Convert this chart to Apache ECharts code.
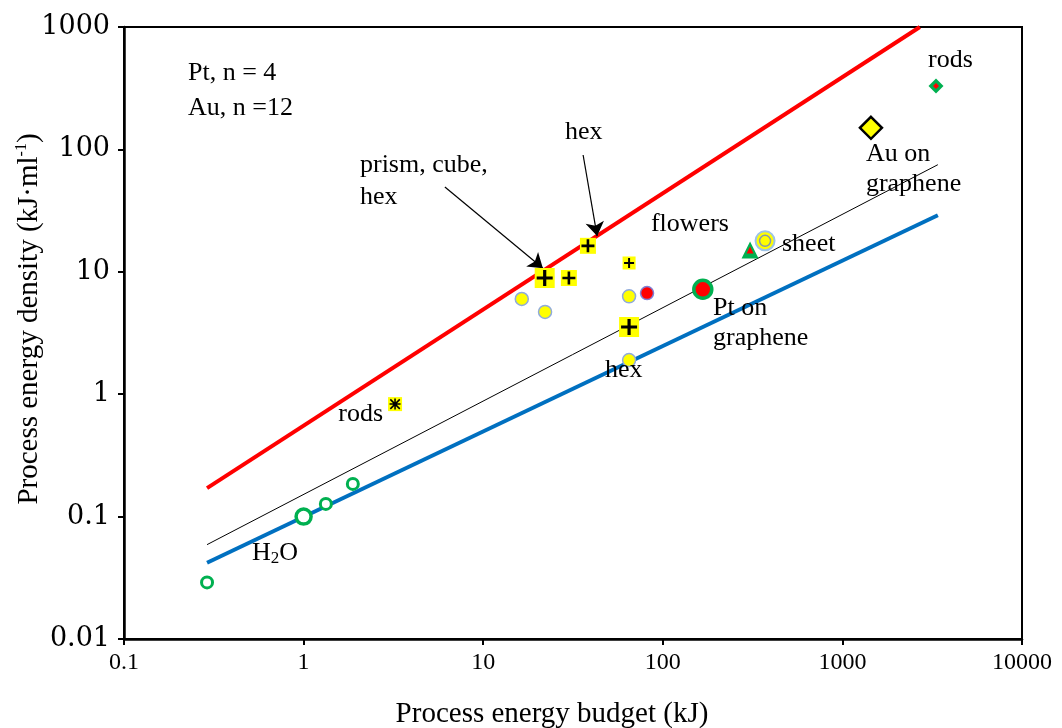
<!DOCTYPE html>
<html>
<head>
<meta charset="utf-8">
<script src="https://cdn.jsdelivr.net/npm/echarts@6/dist/echarts.min.js"></script>
<style>html,body{margin:0;padding:0;background:#fff}#c{width:1062px;height:728px}</style>
</head>
<body>
<div id="c"></div>
<script>
// ---- data ----
const xTickLabels = ['0.1', '1', '10', '100', '1000', '10000'];
const yTickLabels = ['0.01', '0.1', '1', '10', '100', '1000'];

const redLine = [[0.29, 0.171], [2700, 1000]];
const blueLine = [[0.29, 0.042], [3400, 29]];
const thinLine = [[0.29, 0.059], [3400, 75]];

const waterSmall = [[0.29, 0.029], [1.33, 0.127], [1.88, 0.185]];
const waterLarge = [[1.0, 0.1]];
const yellowCircles = [[16.4, 6.0], [22.1, 4.7], [64.9, 6.3], [64.9, 1.9]];
const sheetPoint = [[371, 17.9]];
const redBlueCircle = [[81.7, 6.7]];
const ptGraphene = [[167, 7.2]];
const greenTriangle = [[306, 15.1]];
const greenDiamond = [[3319, 330]];
const auGraphene = [[1442, 150]];
const plusLarge = [[22, 8.9], [64.9, 3.54]];
const plusMedium = [[30, 8.9], [38.3, 16.3]];
const plusSmall = [[64.9, 11.8]];
const rodsStar = [[3.23, 0.83]];

const annotations = [
  [0.227, 421, 'Pt, n = 4'],
  [0.227, 218, 'Au, n =12'],
  [28.5, 139, 'hex'],
  [2.06, 74.7, 'prism, cube,'],
  [2.06, 40.8, 'hex'],
  [85.9, 24.6, 'flowers'],
  [461, 16.9, 'sheet'],
  [190.6, 5.06, 'Pt on'],
  [190.6, 2.88, 'graphene'],
  [47.6, 1.58, 'hex'],
  [1.56, 0.689, 'rods'],
  [0.516, 0.0505, 'H{sub|2}O'],
  [1352, 91.6, 'Au on'],
  [1352, 52.1, 'graphene'],
  [3000, 537, 'rods']
];
const arrows = [
  [[6.12, 49.3], [21.5, 10.7]],
  [[36.0, 90], [43.1, 19.6]]
];

// ---- chart ----
const SERIF = '"Liberation Serif", "Times New Roman", serif';
const YSERIF = '"DejaVu Serif", serif';
const YELLOW = '#FFFF00';
const GREEN = '#00B050';
const RED = '#FF0000';
const PLUS = 'path://M4,0H6V10H4Z M0,4H10V6H0Z';
const STAR = 'path://M4.3,0H5.7V10H4.3Z M0,4.3H10V5.7H0Z M1.2,0.2L9.8,8.8L8.8,9.8L0.2,1.2Z M8.8,0.2L9.8,1.2L1.2,9.8L0.2,8.8Z';

function sc(data, symbol, size, fill, border, bw, z) {
  return {
    type: 'scatter', data: data, symbol: symbol, symbolSize: size, z: z || 5,
    itemStyle: { color: fill, borderColor: border || fill, borderWidth: bw || 0, opacity: 1 },
    emphasis: { disabled: true }, silent: true
  };
}

const chart = echarts.init(document.getElementById('c'));
chart.setOption({
  animation: false,
  backgroundColor: '#fff',
  grid: { left: 124, right: 40, top: 27, bottom: 89, containLabel: false, outerBoundsMode: 'none',
    show: true, borderColor: '#000', borderWidth: 2, backgroundColor: 'transparent' },
  xAxis: {
    type: 'log', logBase: 10, min: 0.1, max: 10000,
    name: 'Process energy budget (kJ)', nameLocation: 'middle', nameGap: 61, nameMoveOverlap: false,
    nameTextStyle: { fontFamily: SERIF, fontSize: 29, color: '#000', padding: [0, 42, 0, 0] },
    axisLine: { show: true, lineStyle: { color: '#000', width: 2.5 } },
    axisTick: { show: true, length: 6, lineStyle: { color: '#000', width: 2 } },
    minorTick: { show: false },
    splitLine: { show: false },
    axisLabel: {
      fontFamily: SERIF, fontSize: 24, color: '#000', margin: 12,
      formatter: v => xTickLabels[Math.round(Math.log10(v)) + 1]
    }
  },
  yAxis: {
    type: 'log', logBase: 10, min: 0.01, max: 1000,
    name: 'Process energy density (kJ·ml{sup|-1})', nameLocation: 'middle', nameGap: 80, nameRotate: 90,
    nameMoveOverlap: false,
    nameTextStyle: { fontFamily: SERIF, fontSize: 29, color: '#000', padding: [0, 0, 0, 28],
      rich: { sup: { fontFamily: SERIF, fontSize: 16, color: '#000', padding: [0, 0, 14, 0] } } },
    axisLine: { show: true, lineStyle: { color: '#000', width: 2.5 } },
    axisTick: { show: true, length: 6, lineStyle: { color: '#000', width: 2 } },
    splitLine: { show: false },
    axisLabel: {
      fontFamily: YSERIF, fontSize: 27, color: '#000', margin: 14,
      formatter: v => yTickLabels[Math.round(Math.log10(v)) + 2]
    }
  },
  series: [
    { type: 'line', data: redLine, symbol: 'none', lineStyle: { color: RED, width: 4 }, z: 2, silent: true },
    { type: 'line', data: blueLine, symbol: 'none', lineStyle: { color: '#0070C0', width: 4 }, z: 2, silent: true },
    { type: 'line', data: thinLine, symbol: 'none', lineStyle: { color: '#000', width: 1 }, z: 2, silent: true },
    {
      type: 'lines', coordinateSystem: 'cartesian2d', data: arrows.map(a => ({ coords: a })),
      symbol: ['none', 'arrow'], symbolSize: [0, 14],
      lineStyle: { color: '#000', width: 1.2, opacity: 1 }, z: 3, silent: true
    },
    sc(waterSmall, 'circle', 11, '#fff', GREEN, 3),
    sc(waterLarge, 'circle', 15, '#fff', GREEN, 3.5),
    sc(yellowCircles, 'circle', 13, YELLOW, '#8FAADC', 1.5),
    sc(sheetPoint, 'circle', 19, YELLOW, '#9DC3E6', 2),
    sc(sheetPoint, 'circle', 11, YELLOW, '#8497B0', 1.5, 6),
    sc(redBlueCircle, 'circle', 13, RED, '#7F7FD5', 1.5),
    sc(ptGraphene, 'circle', 18, RED, GREEN, 3.5),
    sc(greenTriangle, 'triangle', 17, GREEN, GREEN, 0),
    sc(greenTriangle, 'triangle', 7, RED, RED, 0, 6),
    sc(greenDiamond, 'diamond', 15, GREEN, GREEN, 0),
    sc(greenDiamond, 'diamond', 6, RED, RED, 0, 6),
    sc(auGraphene, 'diamond', 22, YELLOW, '#000', 2.5),
    sc(plusLarge, 'rect', 20, YELLOW, YELLOW, 0),
    sc(plusLarge, PLUS, 16, '#000', '#000', 0, 6),
    sc(plusMedium, 'rect', 16, YELLOW, YELLOW, 0),
    sc(plusMedium, PLUS, 13, '#000', '#000', 0, 6),
    sc(plusSmall, 'rect', 13, YELLOW, YELLOW, 0),
    sc(plusSmall, PLUS, 10, '#000', '#000', 0, 6),
    sc(rodsStar, 'rect', 14, YELLOW, YELLOW, 0),
    sc(rodsStar, STAR, 11, '#000', '#000', 0, 6),
    {
      type: 'scatter', symbolSize: 0, z: 7, silent: true,
      itemStyle: { opacity: 1 },
      data: annotations.map(a => ({ value: [a[0], a[1]], name: a[2] })),
      label: {
        show: true, position: 'right', distance: 0, formatter: p => p.name,
        fontFamily: SERIF, fontSize: 26, color: '#000', opacity: 1,
        rich: { sub: { fontFamily: SERIF, fontSize: 17, color: '#000', padding: [12, 0, 0, 0] } }
      }
    }
  ]
});
</script>
</body>
</html>
